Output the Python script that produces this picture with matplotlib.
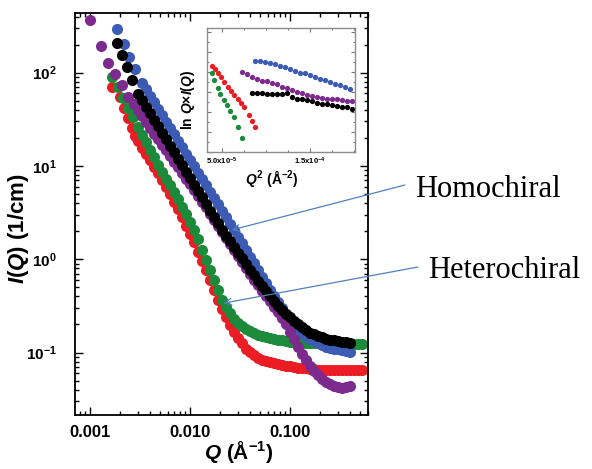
import math
import matplotlib
matplotlib.use("Agg")
import matplotlib.pyplot as plt
from matplotlib.ticker import FixedLocator, FuncFormatter, LogLocator, MultipleLocator, NullFormatter

plt.rcParams['font.family'] = 'Liberation Sans'
plt.rcParams['font.weight'] = 'bold'
plt.rcParams['axes.labelweight'] = 'bold'
plt.rcParams['mathtext.fontset'] = 'custom'
plt.rcParams['mathtext.rm'] = 'Liberation Sans:bold'
plt.rcParams['mathtext.bf'] = 'Liberation Sans:bold'
plt.rcParams['mathtext.it'] = 'Liberation Sans:italic:bold'

# common Q grid of the dense part (1/A)
q_grid = [0.00302, 0.00331, 0.00363, 0.00398, 0.00437, 0.00479, 0.00525, 0.00575, 0.00631, 0.00692,
          0.00759, 0.00832, 0.00912, 0.0100, 0.0110, 0.0120, 0.0132, 0.0145, 0.0158, 0.0174,
          0.0191, 0.0209, 0.0229, 0.0251, 0.0275, 0.0302, 0.0331, 0.0363, 0.0398, 0.0437,
          0.0479, 0.0525, 0.0575, 0.0631, 0.0692, 0.0759, 0.0832, 0.0912, 0.100, 0.110,
          0.120, 0.132, 0.145, 0.158, 0.174, 0.191, 0.209, 0.229, 0.251, 0.275,
          0.302, 0.331, 0.363, 0.398, 0.437, 0.479, 0.525]

# low-Q points of each sample
q_low_blue = [0.00185, 0.00220, 0.00245, 0.00279]
i_low_blue = [292, 201, 149, 110]
q_low_black = [0.00186, 0.00209, 0.00234, 0.00263]
i_low_black = [208, 155, 115, 83.5]
q_low_purple = [0.00100, 0.00129, 0.00153, 0.00178, 0.00207, 0.00242, 0.00275]
i_low_purple = [367, 193, 126, 96.8, 73.8, 55.3, 46.2]
q_low_red = [0.00166, 0.00200, 0.00219, 0.00240, 0.00263, 0.00282]
i_low_red = [70.3, 54.9, 41.8, 32.7, 25.5, 21.0]
q_low_green = [0.00166, 0.00191, 0.00214, 0.00240, 0.00269]
i_low_green = [89.9, 70.3, 53.6, 41.8, 33.5]

# I(Q) on the grid
i_blue = [78.3, 66.7, 56.8, 48.4, 41.2, 35.1, 29.9, 25.5, 21.9, 18.7,
          15.9, 13.6, 11.6, 9.95, 8.50, 7.26, 6.20, 5.30, 4.53, 3.87,
          3.30, 2.83, 2.41, 2.06, 1.75, 1.48, 1.26, 1.07, 0.906, 0.768,
          0.651, 0.553, 0.469, 0.403, 0.346, 0.298, 0.258, 0.229, 0.204, 0.181,
          0.164, 0.152, 0.141, 0.132, 0.126, 0.121, 0.116, 0.113, 0.110, 0.108,
          0.106, 0.104, 0.102]
i_black = [59.7, 50.9, 43.3, 36.9, 31.4, 26.8, 22.8, 19.4, 16.5, 14.1,
           12.0, 10.2, 8.71, 7.44, 6.33, 5.40, 4.60, 3.91, 3.33, 2.84,
           2.42, 2.06, 1.79, 1.56, 1.35, 1.17, 1.02, 0.884, 0.768, 0.674,
           0.590, 0.517, 0.455, 0.404, 0.359, 0.319, 0.287, 0.262, 0.239, 0.218,
           0.202, 0.188, 0.174, 0.162, 0.157, 0.151, 0.146, 0.141, 0.138, 0.135,
           0.133, 0.131, 0.129, 0.128]
i_purple = [40.0, 34.5, 29.7, 25.5, 22.2, 19.4, 16.9, 14.7, 12.8, 11.1,
            9.71, 8.44, 7.33, 6.35, 5.50, 4.78, 4.14, 3.59, 3.08, 2.65,
            2.28, 1.96, 1.69, 1.45, 1.25, 1.08, 0.927, 0.797, 0.692, 0.603,
            0.525, 0.457, 0.402, 0.354, 0.310, 0.271, 0.237, 0.201, 0.168, 0.140,
            0.116, 0.0964, 0.0829, 0.0722, 0.0635, 0.0575, 0.0521, 0.0486, 0.0459, 0.0436,
            0.0428, 0.0420, 0.0427, 0.0439]
i_green = [26.2, 21.7, 18.0, 14.9, 12.4, 10.2, 8.67, 7.33, 6.20, 5.24,
           4.43, 3.65, 3.02, 2.49, 2.06, 1.63, 1.27, 0.985, 0.768, 0.597,
           0.465, 0.362, 0.306, 0.266, 0.231, 0.205, 0.192, 0.181, 0.170, 0.161,
           0.156, 0.152, 0.148, 0.143, 0.141, 0.138, 0.135, 0.132, 0.130, 0.129,
           0.129, 0.128, 0.128, 0.127, 0.127, 0.126, 0.125, 0.126, 0.124, 0.125,
           0.123, 0.124, 0.125, 0.123, 0.124, 0.125, 0.124]
i_red = [18.4, 15.7, 13.4, 11.5, 9.80, 8.31, 6.99, 5.88, 4.95, 4.16,
         3.45, 2.81, 2.30, 1.88, 1.52, 1.21, 0.959, 0.762, 0.600, 0.469,
         0.366, 0.293, 0.241, 0.198, 0.168, 0.143, 0.126, 0.110, 0.101, 0.0933,
         0.0865, 0.0823, 0.0803, 0.0783, 0.0764, 0.0745, 0.0731, 0.0720, 0.0710, 0.0699,
         0.0689, 0.0681, 0.0676, 0.0669, 0.0664, 0.0658, 0.0654, 0.0651, 0.0648, 0.0653,
         0.0649, 0.0650, 0.0647, 0.0652, 0.0649, 0.0651, 0.0648]

# inset: ln Q*I(Q) vs Q^2
q2_red = [3.83e-5, 4.20e-5, 4.51e-5, 4.89e-5, 5.26e-5, 5.65e-5, 6.02e-5, 6.40e-5, 6.78e-5, 7.16e-5,
          7.53e-5, 8.07e-5, 8.44e-5, 8.75e-5]
ln_red = [4.15, 4.07, 3.97, 3.87, 3.76, 3.63, 3.53, 3.42, 3.32, 3.22, 3.12, 2.93, 2.78, 2.63]
q2_green = [3.83e-5, 4.13e-5, 4.51e-5, 4.81e-5, 5.19e-5, 5.57e-5, 5.94e-5, 6.40e-5, 6.78e-5, 7.24e-5]
ln_green = [3.97, 3.80, 3.59, 3.45, 3.30, 3.18, 3.03, 2.87, 2.63, 2.34]
q2_blue = [8.75e-5, 9.32e-5, 9.89e-5, 10.45e-5, 11.02e-5, 11.59e-5, 12.16e-5, 12.73e-5, 13.30e-5, 13.86e-5,
           14.43e-5, 15.00e-5, 15.57e-5, 16.14e-5, 16.70e-5, 17.27e-5, 17.84e-5, 18.41e-5, 18.98e-5, 19.55e-5]
ln_blue = [4.28, 4.27, 4.25, 4.22, 4.20, 4.15, 4.13, 4.08, 4.03, 3.98,
           3.97, 3.93, 3.88, 3.83, 3.80, 3.75, 3.70, 3.67, 3.62, 3.58]
q2_purple = [7.24e-5, 7.80e-5, 8.37e-5, 8.94e-5, 9.51e-5, 10.08e-5, 10.65e-5, 11.22e-5, 11.78e-5, 12.35e-5,
             12.92e-5, 13.49e-5, 14.06e-5, 14.62e-5, 15.19e-5, 15.76e-5, 16.33e-5, 16.90e-5, 17.46e-5, 18.03e-5,
             18.60e-5, 19.17e-5, 19.74e-5]
ln_purple = [4.01, 3.95, 3.88, 3.82, 3.78, 3.77, 3.73, 3.70, 3.63, 3.59,
             3.55, 3.51, 3.47, 3.43, 3.40, 3.37, 3.34, 3.33, 3.32, 3.32,
             3.30, 3.28, 3.27]
q2_black = [8.37e-5, 8.94e-5, 9.51e-5, 10.08e-5, 10.65e-5, 11.22e-5, 11.78e-5, 12.35e-5, 12.92e-5, 13.49e-5,
            14.06e-5, 14.62e-5, 15.19e-5, 15.76e-5, 16.33e-5, 16.90e-5, 17.46e-5, 18.03e-5, 18.60e-5, 19.17e-5,
            19.74e-5]
ln_black = [3.47, 3.48, 3.47, 3.45, 3.45, 3.45, 3.45, 3.47, 3.38, 3.33,
            3.32, 3.30, 3.28, 3.22, 3.20, 3.20, 3.17, 3.15, 3.12, 3.13,
            3.08]

c_red = '#ec1c24'
c_green = '#1b8a3a'
c_blue = '#3c5bb5'
c_purple = '#7d2a8e'
c_black = '#000000'

fig = plt.figure(figsize=(5.92, 4.69), dpi=100)
ax = fig.add_axes([0.1267, 0.1151, 0.4949, 0.8571])

series = [
    (q_low_red + q_grid, i_low_red + i_red, c_red),
    (q_low_green + q_grid, i_low_green + i_green, c_green),
    (q_low_blue + q_grid[1:54], i_low_blue + i_blue, c_blue),
    (q_low_purple + q_grid[0:54], i_low_purple + i_purple, c_purple),
    (q_low_black + q_grid[0:54], i_low_black + i_black, c_black),
]
for q, i, c in series:
    ax.plot(q, i, 'o', color=c, ms=8, mec='none', ls='none')

ax.set_xscale('log')
ax.set_yscale('log')
ax.set_xlim(0.000708, 0.603)
ax.set_ylim(0.0214, 436)

ax.xaxis.set_major_locator(FixedLocator([0.001, 0.01, 0.1]))
ax.xaxis.set_major_formatter(FuncFormatter(lambda v, p: '%.3f' % v))
ax.xaxis.set_minor_locator(LogLocator(base=10, subs=range(2, 10), numticks=20))
ax.xaxis.set_minor_formatter(NullFormatter())
ax.yaxis.set_major_locator(FixedLocator([0.1, 1, 10, 100]))
ax.yaxis.set_major_formatter(FuncFormatter(lambda v, p: r'$10^{%d}$' % round(math.log10(v))))
ax.yaxis.set_minor_locator(LogLocator(base=10, subs=range(2, 10), numticks=20))
ax.yaxis.set_minor_formatter(NullFormatter())

ax.tick_params(which='both', direction='in', top=True, right=True, width=1)
ax.tick_params(which='major', length=6)
ax.tick_params(which='minor', length=3)
ax.tick_params(axis='x', which='major', pad=7, labelsize=12)
ax.tick_params(axis='y', which='major', pad=13, labelsize=11)
for s in ax.spines.values():
    s.set_linewidth(1.3)

ax.set_xlabel(r'$\mathit{Q}$ (Å$^{-1}$)', fontsize=15)
ax.set_ylabel(r'$\mathit{I(Q)}$ (1/cm)', fontsize=16)
ax.xaxis.set_label_coords(0.56, -0.06)
ax.yaxis.set_label_coords(-0.15, 0.463)

# arrows + labels
arrow_c = '#4f81bd'
ax.annotate('', xy=(0.0261, 2.06), xycoords='data', xytext=(0.684, 0.6055),
            textcoords='figure fraction', annotation_clip=False,
            arrowprops=dict(arrowstyle='->', color=arrow_c, lw=0.9, shrinkA=0, shrinkB=0, mutation_scale=12))
ax.annotate('', xy=(0.0216, 0.338), xycoords='data', xytext=(0.706, 0.4307),
            textcoords='figure fraction', annotation_clip=False,
            arrowprops=dict(arrowstyle='->', color=arrow_c, lw=0.9, shrinkA=0, shrinkB=0, mutation_scale=12))
fig.text(0.701, 0.5806, 'Homochiral', family='Liberation Serif', weight='normal', fontsize=22,
         ha='left', va='baseline')
fig.text(0.723, 0.4066, 'Heterochiral', family='Liberation Serif', weight='normal', fontsize=22,
         ha='left', va='baseline')

# inset
axin = fig.add_axes([0.3497, 0.6759, 0.2500, 0.2644])
for q, v, c in [(q2_red, ln_red, c_red), (q2_green, ln_green, c_green), (q2_blue, ln_blue, c_blue),
                (q2_purple, ln_purple, c_purple), (q2_black, ln_black, c_black)]:
    axin.plot(q, v, 'o', color=c, ms=3.8, mec='none', ls='none')
axin.set_xlim(3.30e-5, 2.01e-4)
axin.set_ylim(2.0, 5.1)
axin.xaxis.set_major_locator(FixedLocator([5e-5, 1.5e-4]))
axin.set_xticklabels([r'5.0x10$^{-5}$', r'1.5x10$^{-4}$'])
axin.xaxis.set_minor_locator(MultipleLocator(2.5e-5))
axin.yaxis.set_major_locator(MultipleLocator(0.5))
axin.yaxis.set_minor_locator(MultipleLocator(0.25))
axin.set_yticklabels([])
axin.tick_params(which='both', direction='in', top=True, right=True, color='#777777', width=0.8)
axin.tick_params(which='major', length=3, labelsize=5.5, pad=3)
axin.tick_params(which='minor', length=1.5)
for s in axin.spines.values():
    s.set_color('#8c8c8c')
    s.set_linewidth(1)
axin.set_xlabel(r'$\mathit{Q}^{2}$ (Å$^{-2}$)', fontsize=10)
axin.set_ylabel(r'ln $\mathit{Q}$×$\mathit{I(Q)}$', fontsize=10)
axin.xaxis.set_label_coords(0.439, -0.129)
axin.yaxis.set_label_coords(-0.07, 0.42)

fig.savefig('out.png', dpi=100)
